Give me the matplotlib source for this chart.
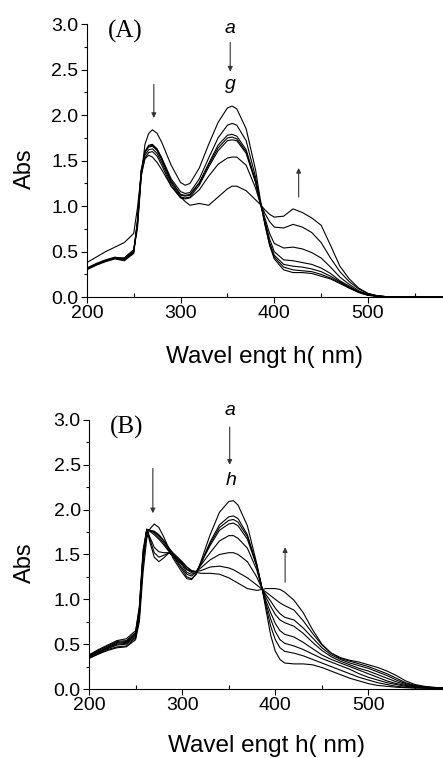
import matplotlib
matplotlib.use("Agg")
import matplotlib.pyplot as plt
from matplotlib.ticker import MultipleLocator

plt.rcParams['font.family'] = ['Liberation Sans', 'DejaVu Sans']

# ---------------- data: panel (A), curves a..g ----------------
wl_A = [200, 210, 220, 230, 240, 250, 254, 258, 262, 266,
        270, 275, 280, 290, 300, 305, 310, 320, 330, 340,
        350, 355, 360, 370, 380, 385, 390, 395, 400, 410,
        420, 430, 440, 450, 460, 470, 480, 490, 500, 510,
        520, 540, 560, 580]

A_a = [0.31, 0.36, 0.40, 0.43, 0.43, 0.52, 0.75, 1.32, 1.68, 1.80,
       1.84, 1.80, 1.70, 1.45, 1.26, 1.23, 1.25, 1.42, 1.68, 1.92,
       2.08, 2.10, 2.07, 1.85, 1.40, 1.08, 0.80, 0.57, 0.42, 0.30,
       0.27, 0.27, 0.26, 0.23, 0.20, 0.15, 0.10, 0.05, 0.02, 0.01,
       0.005, 0.0, 0.0, 0.0]
A_b = [0.31, 0.36, 0.40, 0.43, 0.43, 0.52, 0.80, 1.35, 1.60, 1.67,
       1.68, 1.63, 1.53, 1.30, 1.16, 1.14, 1.15, 1.30, 1.53, 1.75,
       1.89, 1.91, 1.89, 1.72, 1.32, 1.05, 0.80, 0.58, 0.44, 0.33,
       0.30, 0.29, 0.28, 0.25, 0.21, 0.16, 0.10, 0.055, 0.02, 0.01,
       0.005, 0.0, 0.0, 0.0]
A_c = [0.32, 0.37, 0.41, 0.44, 0.42, 0.50, 0.82, 1.38, 1.60, 1.66,
       1.67, 1.62, 1.52, 1.28, 1.13, 1.12, 1.13, 1.26, 1.47, 1.67,
       1.78, 1.79, 1.77, 1.62, 1.28, 1.04, 0.82, 0.60, 0.46, 0.36,
       0.34, 0.33, 0.31, 0.28, 0.23, 0.17, 0.11, 0.06, 0.025, 0.01,
       0.005, 0.0, 0.0, 0.0]
A_d = [0.31, 0.36, 0.40, 0.43, 0.41, 0.50, 0.85, 1.40, 1.59, 1.65,
       1.66, 1.61, 1.51, 1.27, 1.12, 1.11, 1.12, 1.25, 1.45, 1.64,
       1.75, 1.76, 1.74, 1.60, 1.27, 1.04, 0.84, 0.64, 0.50, 0.41,
       0.40, 0.38, 0.36, 0.32, 0.26, 0.18, 0.12, 0.06, 0.025, 0.01,
       0.005, 0.0, 0.0, 0.0]
A_e = [0.30, 0.35, 0.39, 0.42, 0.40, 0.48, 0.83, 1.38, 1.56, 1.62,
       1.63, 1.58, 1.48, 1.25, 1.10, 1.09, 1.10, 1.23, 1.43, 1.61,
       1.72, 1.73, 1.72, 1.58, 1.26, 1.04, 0.87, 0.70, 0.59, 0.54,
       0.55, 0.53, 0.49, 0.43, 0.33, 0.22, 0.14, 0.07, 0.03, 0.012,
       0.005, 0.0, 0.0, 0.0]
A_f = [0.31, 0.36, 0.40, 0.43, 0.41, 0.49, 0.80, 1.33, 1.53, 1.59,
       1.60, 1.55, 1.45, 1.22, 1.09, 1.08, 1.09, 1.18, 1.33, 1.46,
       1.53, 1.54, 1.54, 1.45, 1.20, 1.03, 0.92, 0.83, 0.77, 0.76,
       0.80, 0.77, 0.71, 0.60, 0.43, 0.28, 0.17, 0.09, 0.04, 0.015,
       0.005, 0.0, 0.0, 0.0]
A_g = [0.38, 0.44, 0.50, 0.55, 0.60, 0.70, 0.98, 1.35, 1.52, 1.56,
       1.54, 1.48, 1.40, 1.22, 1.10, 1.05, 1.01, 1.03, 1.01, 1.10,
       1.19, 1.22, 1.22, 1.17, 1.07, 1.02, 0.96, 0.91, 0.88, 0.89,
       0.97, 0.93, 0.87, 0.79, 0.57, 0.34, 0.20, 0.10, 0.04, 0.015,
       0.005, 0.0, 0.0, 0.0]

# ---------------- data: panel (B), curves a..h ----------------
wl_B = [200, 210, 220, 230, 240, 250, 254, 258, 262, 265,
        270, 275, 280, 286, 290, 300, 305, 310, 315, 320,
        330, 340, 350, 355, 360, 370, 380, 386, 390, 395,
        400, 405, 410, 420, 430, 440, 450, 460, 470, 480,
        490, 500, 510, 520, 530, 540, 550, 560, 570, 580]

B_a = [0.34, 0.39, 0.43, 0.46, 0.47, 0.55, 0.75, 1.30, 1.68, 1.78,
       1.84, 1.80, 1.70, 1.56, 1.46, 1.30, 1.23, 1.22, 1.28, 1.42,
       1.72, 1.97, 2.09, 2.10, 2.05, 1.82, 1.40, 1.11, 0.88, 0.60,
       0.42, 0.33, 0.29, 0.28, 0.28, 0.27, 0.24, 0.20, 0.16, 0.12,
       0.09, 0.06, 0.04, 0.03, 0.02, 0.015, 0.01, 0.01, 0.01, 0.01]
B_b = [0.35, 0.39, 0.44, 0.47, 0.48, 0.57, 0.80, 1.40, 1.78, 1.65,
       1.47, 1.42, 1.46, 1.52, 1.48, 1.33, 1.25, 1.23, 1.28, 1.40,
       1.64, 1.83, 1.92, 1.93, 1.90, 1.72, 1.38, 1.11, 0.92, 0.70,
       0.55, 0.46, 0.42, 0.40, 0.37, 0.33, 0.29, 0.25, 0.21, 0.17,
       0.13, 0.10, 0.07, 0.05, 0.03, 0.02, 0.015, 0.01, 0.01, 0.01]
B_c = [0.36, 0.40, 0.45, 0.49, 0.50, 0.58, 0.82, 1.42, 1.78, 1.68,
       1.52, 1.47, 1.49, 1.52, 1.49, 1.35, 1.28, 1.26, 1.30, 1.40,
       1.62, 1.80, 1.88, 1.89, 1.86, 1.70, 1.38, 1.11, 0.95, 0.78,
       0.64, 0.55, 0.51, 0.48, 0.44, 0.39, 0.34, 0.30, 0.26, 0.22,
       0.17, 0.13, 0.10, 0.07, 0.05, 0.03, 0.02, 0.015, 0.01, 0.01]
B_d = [0.37, 0.41, 0.46, 0.50, 0.51, 0.60, 0.84, 1.45, 1.78, 1.70,
       1.58, 1.53, 1.52, 1.52, 1.50, 1.38, 1.30, 1.28, 1.30, 1.40,
       1.60, 1.77, 1.84, 1.85, 1.82, 1.67, 1.37, 1.11, 0.98, 0.85,
       0.73, 0.65, 0.61, 0.58, 0.52, 0.45, 0.38, 0.33, 0.29, 0.25,
       0.21, 0.17, 0.13, 0.09, 0.06, 0.04, 0.025, 0.015, 0.01, 0.01]
B_e = [0.36, 0.41, 0.46, 0.51, 0.52, 0.61, 0.86, 1.48, 1.78, 1.76,
       1.72, 1.67, 1.61, 1.53, 1.49, 1.39, 1.33, 1.30, 1.31, 1.38,
       1.52, 1.65, 1.71, 1.71, 1.68, 1.57, 1.33, 1.11, 1.02, 0.92,
       0.83, 0.77, 0.74, 0.70, 0.62, 0.52, 0.43, 0.36, 0.31, 0.27,
       0.23, 0.20, 0.16, 0.12, 0.08, 0.05, 0.03, 0.02, 0.01, 0.01]
B_f = [0.37, 0.42, 0.47, 0.52, 0.53, 0.62, 0.88, 1.50, 1.78, 1.77,
       1.74, 1.69, 1.63, 1.54, 1.50, 1.40, 1.34, 1.31, 1.31, 1.35,
       1.44, 1.50, 1.52, 1.52, 1.50, 1.42, 1.25, 1.11, 1.05, 0.98,
       0.90, 0.84, 0.80, 0.77, 0.68, 0.57, 0.46, 0.38, 0.33, 0.29,
       0.26, 0.23, 0.19, 0.15, 0.10, 0.06, 0.035, 0.02, 0.015, 0.01]
B_g = [0.38, 0.43, 0.48, 0.53, 0.54, 0.63, 0.90, 1.52, 1.78, 1.77,
       1.75, 1.71, 1.65, 1.56, 1.51, 1.41, 1.36, 1.32, 1.31, 1.32,
       1.36, 1.37, 1.35, 1.33, 1.30, 1.24, 1.16, 1.11, 1.08, 1.04,
       1.00, 0.96, 0.93, 0.88, 0.76, 0.62, 0.49, 0.40, 0.34, 0.31,
       0.28, 0.25, 0.21, 0.17, 0.12, 0.07, 0.04, 0.025, 0.015, 0.01]
B_h = [0.38, 0.44, 0.49, 0.54, 0.56, 0.65, 0.92, 1.55, 1.78, 1.77,
       1.76, 1.72, 1.66, 1.57, 1.52, 1.42, 1.36, 1.32, 1.30, 1.29,
       1.29, 1.28, 1.24, 1.21, 1.18, 1.12, 1.10, 1.11, 1.12, 1.12,
       1.12, 1.11, 1.08, 0.99, 0.85, 0.66, 0.50, 0.40, 0.35, 0.32,
       0.30, 0.27, 0.24, 0.20, 0.15, 0.09, 0.05, 0.03, 0.02, 0.01]

curves_A = [A_a, A_b, A_c, A_d, A_e, A_f, A_g]
curves_B = [B_a, B_b, B_c, B_d, B_e, B_f, B_g, B_h]

xlabel = 'Wavel engt h( nm)'


def style_axes(ax, tag, ylab_x, xlab_y):
    ax.set_xlim(200, 580)
    ax.set_ylim(0, 3.0)
    ax.spines['top'].set_visible(False)
    ax.spines['right'].set_visible(False)
    for s in ('left', 'bottom'):
        ax.spines[s].set_linewidth(0.8)
    ax.xaxis.set_major_locator(MultipleLocator(100))
    ax.xaxis.set_minor_locator(MultipleLocator(50))
    ax.yaxis.set_major_locator(MultipleLocator(0.5))
    ax.yaxis.set_minor_locator(MultipleLocator(0.25))
    ax.yaxis.set_major_formatter('{x:.1f}')
    ax.tick_params(which='major', direction='out', length=4, width=0.8,
                   labelsize=14, pad=2)
    ax.tick_params(axis='x', which='minor', direction='in', length=3, width=0.8)
    ax.tick_params(axis='y', which='minor', direction='out', length=2.5, width=0.8)
    ax.set_ylabel('Abs', fontsize=17, va='center')
    ax.yaxis.set_label_coords(ylab_x, 0.47)
    ax.set_xlabel(xlabel, fontsize=17.5, va='center')
    ax.xaxis.set_label_coords(0.5, xlab_y)
    ax.text(240.5, 2.92, tag, family=['Liberation Serif', 'DejaVu Serif'],
            fontsize=18, ha='center', va='center')


def arrow(ax, x, y0, y1):
    ax.annotate('', xy=(x, y1), xytext=(x, y0), annotation_clip=False,
                arrowprops=dict(arrowstyle='-|>', color='0.2', lw=0.8,
                                mutation_scale=7, shrinkA=0, shrinkB=0))


fig = plt.figure(figsize=(4.43, 7.58), dpi=100)
axA = fig.add_axes([0.196, 0.608, 0.804, 0.360])
axB = fig.add_axes([0.201, 0.091, 0.799, 0.355])

for y in curves_A:
    axA.plot(wl_A, y, color='black', lw=0.8)
for y in curves_B:
    axB.plot(wl_B, y, color='black', lw=0.8)

style_axes(axA, '(A)', -0.174, -0.22)
style_axes(axB, '(B)', -0.18, -0.21)

# panel A annotations
arrow(axA, 271.5, 2.34, 1.97)
arrow(axA, 353, 2.80, 2.48)
arrow(axA, 426, 1.10, 1.42)
axA.text(353, 2.95, 'a', fontsize=14, style='italic', ha='center', va='center')
axA.text(353, 2.34, 'g', fontsize=14, style='italic', ha='center', va='center')

# panel B annotations
arrow(axB, 268.5, 2.46, 1.96)
arrow(axB, 351, 2.92, 2.50)
arrow(axB, 410.5, 1.19, 1.58)
axB.text(351, 3.11, 'a', fontsize=14, style='italic', ha='center', va='center',
         clip_on=False)
axB.text(353, 2.33, 'h', fontsize=14, style='italic', ha='center', va='center')

fig.savefig('out.png', dpi=100)
